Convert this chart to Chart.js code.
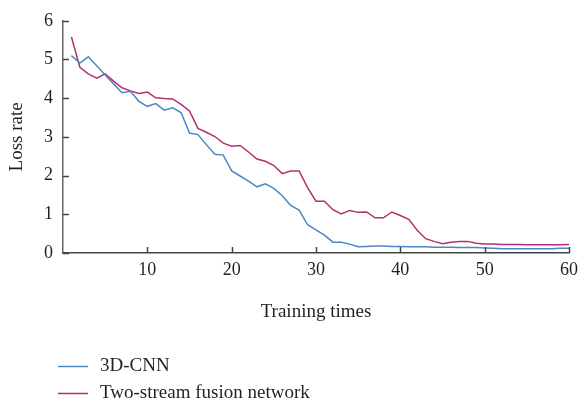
<!DOCTYPE html>
<html>
<head>
<meta charset="utf-8">
<script src="https://cdn.jsdelivr.net/npm/chart.js@4"></script>
<style>
  html, body { margin: 0; padding: 0; background: #ffffff; }
  #wrap { width: 584px; height: 407px; }
</style>
</head>
<body>
<div id="wrap"><canvas id="lossChart" width="584" height="407"></canvas></div>
<script>
// -------------------------------
// Datos
// -------------------------------
const trainingTimes = [1, 2, 3, 4, 5, 6, 7, 8, 9, 10, 11, 12, 13, 14, 15, 16, 17, 18, 19, 20,
    21, 22, 23, 24, 25, 26, 27, 28, 29, 30, 31, 32, 33, 34, 35, 36, 37, 38, 39, 40,
    41, 42, 43, 44, 45, 46, 47, 48, 49, 50, 51, 52, 53, 54, 55, 56, 57, 58, 59, 60];

const cnnLoss = [5.10, 4.91, 5.07, 4.84, 4.60, 4.37, 4.14, 4.18, 3.92, 3.79,
    3.86, 3.69, 3.75, 3.63, 3.10, 3.06, 2.80, 2.55, 2.53, 2.12,
    1.99, 1.86, 1.71, 1.79, 1.67, 1.48, 1.23, 1.11, 0.73, 0.60,
    0.46, 0.28, 0.28, 0.23, 0.16, 0.17, 0.18, 0.18, 0.17, 0.17,
    0.16, 0.16, 0.16, 0.15, 0.15, 0.15, 0.14, 0.14, 0.14, 0.13,
    0.12, 0.11, 0.11, 0.11, 0.11, 0.11, 0.11, 0.11, 0.12, 0.12];

const fusionLoss = [5.58, 4.80, 4.63, 4.52, 4.63, 4.44, 4.27, 4.19, 4.12, 4.16,
    4.01, 3.99, 3.98, 3.84, 3.67, 3.22, 3.12, 3.01, 2.84, 2.76,
    2.78, 2.61, 2.43, 2.37, 2.26, 2.05, 2.12, 2.12, 1.69, 1.34,
    1.34, 1.12, 1.01, 1.10, 1.05, 1.06, 0.91, 0.91, 1.06, 0.97,
    0.87, 0.59, 0.37, 0.30, 0.24, 0.28, 0.30, 0.30, 0.25, 0.23,
    0.23, 0.22, 0.22, 0.22, 0.21, 0.21, 0.21, 0.21, 0.21, 0.22];

const seriesNames = ["3D-CNN", "Two-stream fusion network"];
const seriesColors = ["#4d86c4", "#b3306e"];
const xTicks = [10, 20, 30, 40, 50, 60];
const yTicks = [0, 1, 2, 3, 4, 5, 6];

const serif = "'Liberation Serif', 'DejaVu Serif', serif";
const textColor = "#231f20";
const axisColor = "#444444";

function toPoints(values) {
    return trainingTimes.map((t, i) => ({ x: t, y: values[i] }));
}

// -------------------------------
// Marcas de eje hacia dentro
// -------------------------------
const inwardTicks = {
    id: "inwardTicks",
    afterDraw(chart) {
        const { ctx, chartArea, scales } = chart;
        ctx.save();
        ctx.strokeStyle = axisColor;
        ctx.lineWidth = 1.5;
        ctx.beginPath();
        xTicks.forEach(v => {
            const px = Math.round(scales.x.getPixelForValue(v)) + 0.5;
            ctx.moveTo(px, chartArea.bottom);
            ctx.lineTo(px, chartArea.bottom - 6);
        });
        yTicks.forEach(v => {
            const py = Math.round(scales.y.getPixelForValue(v)) + 0.5;
            ctx.moveTo(chartArea.left, py);
            ctx.lineTo(chartArea.left + 6, py);
        });
        ctx.stroke();
        ctx.restore();
    }
};

// -------------------------------
// Leyenda vertical abajo
// -------------------------------
const stackedLegend = {
    id: "stackedLegend",
    afterDraw(chart) {
        const { ctx } = chart;
        ctx.save();
        ctx.font = "19px " + serif;
        ctx.textBaseline = "middle";
        ctx.fillStyle = textColor;
        chart.data.datasets.forEach((ds, i) => {
            const y = 366 + i * 27;
            ctx.strokeStyle = ds.borderColor;
            ctx.lineWidth = 1.5;
            ctx.beginPath();
            ctx.moveTo(58, y + 0.5);
            ctx.lineTo(88, y + 0.5);
            ctx.stroke();
            ctx.fillText(ds.label, 100, y);
        });
        ctx.restore();
    }
};

const ctx = document.getElementById("lossChart").getContext("2d");

new Chart(ctx, {
    type: "line",
    data: {
        datasets: [
            {
                label: seriesNames[0],
                data: toPoints(cnnLoss),
                borderColor: seriesColors[0],
                borderWidth: 1.5,
                pointRadius: 0,
                tension: 0
            },
            {
                label: seriesNames[1],
                data: toPoints(fusionLoss),
                borderColor: seriesColors[1],
                borderWidth: 1.5,
                pointRadius: 0,
                tension: 0
            }
        ]
    },
    options: {
        responsive: false,
        animation: false,
        layout: { padding: { left: 0, right: 12, top: 18, bottom: 80 } },
        scales: {
            x: {
                type: "linear",
                min: 0,
                max: 60,
                afterFit(scale) { scale.height = 74; },
                afterBuildTicks(scale) { scale.ticks = xTicks.map(v => ({ value: v })); },
                grid: { display: false, drawTicks: false },
                border: { color: axisColor, width: 1.5 },
                ticks: {
                    padding: 6,
                    color: textColor,
                    font: { family: serif, size: 18 },
                    maxRotation: 0
                },
                title: {
                    display: true,
                    text: "Training times",
                    color: textColor,
                    font: { family: serif, size: 19 },
                    padding: { top: 0, bottom: 4 }
                }
            },
            y: {
                min: 0,
                max: 6,
                afterFit(scale) { scale.width = 63; },
                afterBuildTicks(scale) { scale.ticks = yTicks.map(v => ({ value: v })); },
                grid: { display: false, drawTicks: false },
                border: { color: "#666666", width: 1.5 },
                ticks: {
                    padding: 10,
                    color: textColor,
                    font: { family: serif, size: 18 }
                },
                title: {
                    display: true,
                    text: "Loss rate",
                    color: textColor,
                    font: { family: serif, size: 19 },
                    padding: { top: 6, bottom: 0 }
                }
            }
        },
        plugins: {
            legend: { display: false },
            tooltip: { enabled: false }
        }
    },
    plugins: [inwardTicks, stackedLegend]
});
</script>
</body>
</html>
